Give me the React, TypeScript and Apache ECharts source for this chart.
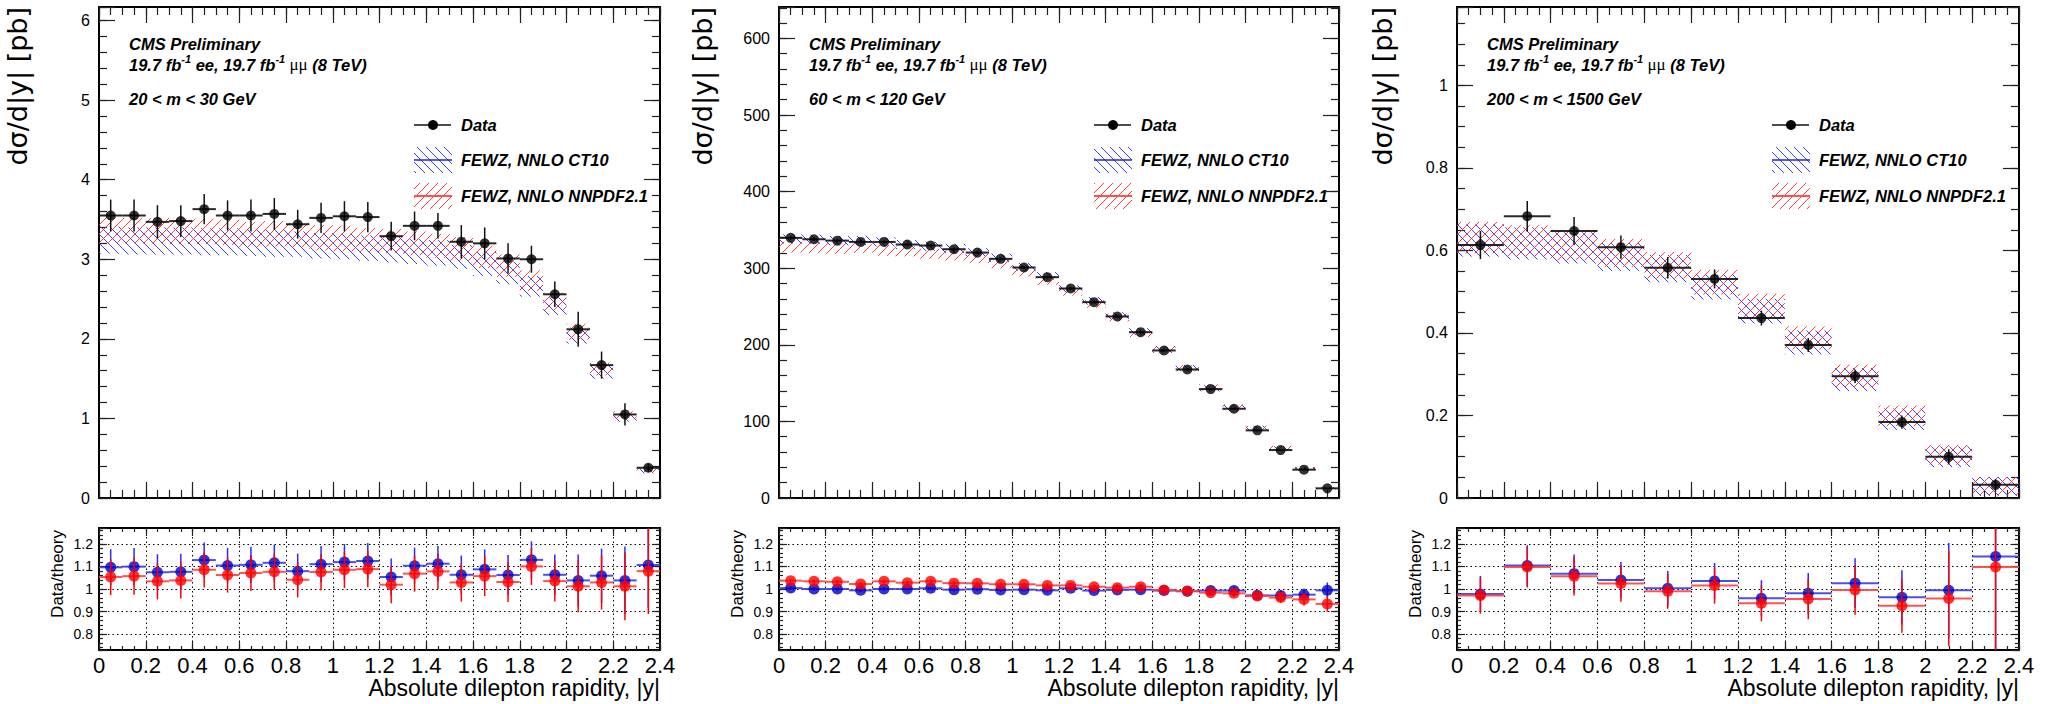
import React, { useEffect, useRef } from "react";
import * as echarts from "echarts";

// Bin edges in |y|
const edges24 = [0, 0.1, 0.2, 0.3, 0.4, 0.5, 0.6, 0.7, 0.8, 0.9, 1.0, 1.1, 1.2, 1.3, 1.4, 1.5, 1.6, 1.7, 1.8, 1.9, 2.0, 2.1, 2.2, 2.3, 2.4];
const edges12 = [0, 0.2, 0.4, 0.6, 0.8, 1.0, 1.2, 1.4, 1.6, 1.8, 2.0, 2.2, 2.4];

// 20 < m < 30 GeV
const data20 = [3.55, 3.55, 3.47, 3.48, 3.63, 3.55, 3.55, 3.57, 3.44, 3.52, 3.54, 3.53, 3.29, 3.42, 3.42, 3.22, 3.20, 3.01, 3.00, 2.56, 2.12, 1.67, 1.05, 0.38];
const data20Err = [0.20, 0.20, 0.21, 0.20, 0.19, 0.19, 0.20, 0.20, 0.18, 0.19, 0.19, 0.19, 0.18, 0.18, 0.16, 0.21, 0.20, 0.19, 0.17, 0.16, 0.22, 0.17, 0.14, 0.05];
const ct10_20 = [3.24, 3.23, 3.23, 3.23, 3.22, 3.22, 3.21, 3.20, 3.19, 3.17, 3.16, 3.14, 3.12, 3.10, 3.08, 3.03, 2.94, 2.83, 2.66, 2.41, 2.04, 1.58, 1.01, 0.34];
const ct10Unc_20 = [0.17, 0.17, 0.17, 0.17, 0.17, 0.17, 0.17, 0.17, 0.16, 0.16, 0.16, 0.16, 0.16, 0.16, 0.16, 0.15, 0.15, 0.14, 0.13, 0.11, 0.10, 0.08, 0.05, 0.03];
const nnpdf_20 = [3.37, 3.36, 3.36, 3.35, 3.35, 3.34, 3.31, 3.32, 3.30, 3.27, 3.26, 3.24, 3.23, 3.20, 3.17, 3.13, 3.03, 2.92, 2.73, 2.47, 2.09, 1.62, 1.04, 0.35];
const nnpdfUnc_20 = [0.16, 0.16, 0.16, 0.16, 0.16, 0.16, 0.16, 0.16, 0.16, 0.16, 0.16, 0.15, 0.15, 0.15, 0.15, 0.15, 0.14, 0.14, 0.13, 0.11, 0.10, 0.08, 0.05, 0.03];
const ratioCt10_20 = [1.096, 1.099, 1.074, 1.076, 1.128, 1.104, 1.107, 1.116, 1.079, 1.110, 1.119, 1.124, 1.053, 1.103, 1.112, 1.063, 1.087, 1.062, 1.129, 1.063, 1.038, 1.059, 1.038, 1.106];
const ratioNnpdf_20 = [1.053, 1.057, 1.034, 1.038, 1.085, 1.062, 1.071, 1.076, 1.041, 1.075, 1.085, 1.088, 1.019, 1.068, 1.078, 1.029, 1.057, 1.031, 1.100, 1.035, 1.012, 1.029, 1.012, 1.079];
const ratioErr_20 = [0.08, 0.082, 0.08, 0.08, 0.078, 0.078, 0.08, 0.08, 0.078, 0.08, 0.08, 0.08, 0.082, 0.08, 0.078, 0.085, 0.088, 0.088, 0.082, 0.09, 0.115, 0.12, 0.15, 0.19];

// 60 < m < 120 GeV
const data60 = [339.6, 337.8, 336.0, 334.3, 334.3, 330.9, 329.6, 324.8, 320.4, 312.2, 300.9, 288.3, 273.5, 255.7, 237.0, 216.5, 192.6, 167.8, 142.2, 116.5, 88.3, 62.6, 37.0, 12.6];
const data60Err = [2.2, 2.2, 2.2, 2.2, 2.2, 2.2, 2.1, 2.1, 2.1, 2.0, 2.0, 1.9, 1.9, 1.8, 1.7, 1.7, 1.6, 1.5, 1.4, 1.3, 1.2, 1.0, 0.8, 0.5];
const ct10_60 = [338.2, 337.8, 336.0, 336.3, 334.3, 330.9, 328.6, 325.8, 320.7, 313.5, 301.8, 290.0, 272.7, 257.5, 238.0, 217.2, 194.0, 169.5, 143.2, 117.3, 90.8, 64.5, 37.9, 12.7];
const ct10Unc_60 = [6, 6, 6, 6, 6, 6, 6, 6, 5.5, 5.5, 5, 5, 5, 5, 4.5, 4.5, 4.5, 4, 4, 4, 3.5, 3, 2.5, 1.5];
const nnpdf_60 = [327.5, 326.7, 325.6, 327.1, 323.3, 321.9, 318.8, 316.6, 312.6, 305.8, 294.7, 283.8, 269.2, 253.2, 235.6, 214.4, 193.4, 169.3, 144.5, 118.8, 91.1, 65.1, 38.8, 13.5];
const nnpdfUnc_60 = [7, 7, 7, 7, 7, 6.5, 6.5, 6.5, 6, 6, 5.5, 5.5, 5, 5, 5, 4.5, 4.5, 4, 4, 3.5, 3, 3, 2, 1.5];
const ratioCt10_60 = [1.004, 1.000, 1.000, 0.994, 1.000, 1.000, 1.003, 0.997, 0.999, 0.996, 0.997, 0.994, 1.003, 0.993, 0.996, 0.997, 0.993, 0.990, 0.993, 0.993, 0.972, 0.971, 0.975, 0.994];
const ratioNnpdf_60 = [1.037, 1.034, 1.032, 1.022, 1.034, 1.028, 1.034, 1.026, 1.025, 1.021, 1.021, 1.016, 1.016, 1.010, 1.006, 1.010, 0.996, 0.991, 0.984, 0.981, 0.969, 0.962, 0.954, 0.934];
const ratioErr_60 = [0.008, 0.008, 0.008, 0.008, 0.008, 0.008, 0.008, 0.008, 0.008, 0.008, 0.008, 0.009, 0.009, 0.009, 0.010, 0.010, 0.011, 0.012, 0.014, 0.016, 0.018, 0.022, 0.027, 0.035];

// 200 < m < 1500 GeV
const data200 = [0.613, 0.683, 0.647, 0.608, 0.558, 0.531, 0.436, 0.371, 0.295, 0.184, 0.100, 0.032];
const data200Err = [0.034, 0.037, 0.034, 0.028, 0.026, 0.023, 0.018, 0.017, 0.016, 0.016, 0.018, 0.014];
const ct10_200 = [0.624, 0.617, 0.606, 0.584, 0.556, 0.512, 0.453, 0.377, 0.287, 0.191, 0.100, 0.028];
const ct10Unc_200 = [0.039, 0.039, 0.038, 0.034, 0.033, 0.031, 0.030, 0.029, 0.028, 0.026, 0.025, 0.023];
const nnpdf_200 = [0.631, 0.623, 0.613, 0.594, 0.564, 0.523, 0.465, 0.388, 0.296, 0.199, 0.105, 0.029];
const nnpdfUnc_200 = [0.038, 0.038, 0.037, 0.034, 0.032, 0.030, 0.030, 0.028, 0.027, 0.025, 0.024, 0.022];
const ratioCt10_200 = [0.978, 1.104, 1.068, 1.040, 1.003, 1.035, 0.959, 0.981, 1.026, 0.963, 0.994, 1.144];
const ratioNnpdf_200 = [0.971, 1.097, 1.056, 1.024, 0.990, 1.015, 0.937, 0.956, 0.996, 0.926, 0.958, 1.097];
const ratioErr_200 = [0.08, 0.09, 0.085, 0.08, 0.077, 0.08, 0.08, 0.09, 0.11, 0.12, 0.21, 0.42];

const massLabels = ["20 < m < 30 GeV", "60 < m < 120 GeV", "200 < m < 1500 GeV"];
const yTopMax = [6.17, 641, 1.19];
const yTopMajor = [1, 100, 0.2];
const yTopMinor = [0.2, 20, 0.05];
const ratioRange = [0.73, 1.27];

const legendLabels = ["Data", "FEWZ, NNLO CT10", "FEWZ, NNLO NNPDF2.1"];

const FONT = "'Liberation Sans', Arial, Helvetica, sans-serif";
const BLUE = "#2a2aff";
const RED = "#ff2a2a";

// layout (px)
const panelLeft = [99, 779, 1457];
const panelWidth = [561, 560, 562];
const yTitleX = [17.5, 702, 1382];
const TOP_Y = 7;
const TOP_H = 491;
const RATIO_Y = 528;
const RATIO_H = 122;
const HATCH = 9;

type Panel = {
  edges: number[];
  data: number[];
  dataErr: number[];
  ct10: number[];
  ct10Unc: number[];
  nnpdf: number[];
  nnpdfUnc: number[];
  rCt10: number[];
  rNnpdf: number[];
  rErr: number[];
};

const panels: Panel[] = [
  { edges: edges24, data: data20, dataErr: data20Err, ct10: ct10_20, ct10Unc: ct10Unc_20, nnpdf: nnpdf_20, nnpdfUnc: nnpdfUnc_20, rCt10: ratioCt10_20, rNnpdf: ratioNnpdf_20, rErr: ratioErr_20 },
  { edges: edges24, data: data60, dataErr: data60Err, ct10: ct10_60, ct10Unc: ct10Unc_60, nnpdf: nnpdf_60, nnpdfUnc: nnpdfUnc_60, rCt10: ratioCt10_60, rNnpdf: ratioNnpdf_60, rErr: ratioErr_60 },
  { edges: edges12, data: data200, dataErr: data200Err, ct10: ct10_200, ct10Unc: ct10Unc_200, nnpdf: nnpdf_200, nnpdfUnc: nnpdfUnc_200, rCt10: ratioCt10_200, rNnpdf: ratioNnpdf_200, rErr: ratioErr_200 },
];

// Diagonal hatch lines clipped to a rectangle. "/" rises to the right, "\\" falls to the right.
function hatchLines(left: number, top: number, right: number, bottom: number, dir: "/" | "\\", stroke: string) {
  const out: any[] = [];
  if (right <= left || bottom <= top) return out;
  const style = { stroke, lineWidth: 1, opacity: 0.9 };
  if (dir === "/") {
    const kStart = Math.ceil((left + top) / HATCH) * HATCH;
    for (let k = kStart; k <= right + bottom; k += HATCH) {
      const xa = Math.max(left, k - bottom);
      const xb = Math.min(right, k - top);
      if (xb > xa) out.push({ type: "line", shape: { x1: xa, y1: k - xa, x2: xb, y2: k - xb }, style });
    }
  } else {
    const kStart = Math.ceil((left - bottom) / HATCH) * HATCH;
    for (let k = kStart; k <= right - top; k += HATCH) {
      const xa = Math.max(left, top + k);
      const xb = Math.min(right, bottom + k);
      if (xb > xa) out.push({ type: "line", shape: { x1: xa, y1: xa - k, x2: xb, y2: xb - k }, style });
    }
  }
  return out;
}

function bandRenderer(dir: "/" | "\\", stroke: string) {
  return (params: any, api: any) => {
    const cs = params.coordSys;
    const lo = api.value(0), hi = api.value(1), c = api.value(2), e = api.value(3);
    const p0 = api.coord([lo, c + e]);
    const p1 = api.coord([hi, c - e]);
    const left = Math.max(p0[0], cs.x);
    const right = Math.min(p1[0], cs.x + cs.width);
    const top = Math.max(p0[1], cs.y);
    const bottom = Math.min(p1[1], cs.y + cs.height);
    return { type: "group", children: hatchLines(left, top, right, bottom, dir, stroke) };
  };
}

function errorRenderer(hColor: string, vColor: string, hWidth: number, vWidth: number, hOpacity: number) {
  return (params: any, api: any) => {
    const cs = params.coordSys;
    const lo = api.value(0), hi = api.value(1), y = api.value(2), e = api.value(3);
    const mid = (lo + hi) / 2;
    const a = api.coord([lo, y]);
    const b = api.coord([hi, y]);
    const t = api.coord([mid, y + e]);
    const d = api.coord([mid, y - e]);
    const cy = (v: number) => Math.min(Math.max(v, cs.y), cs.y + cs.height);
    const children: any[] = [];
    if (a[1] >= cs.y && a[1] <= cs.y + cs.height) {
      children.push({ type: "line", shape: { x1: a[0], y1: a[1], x2: b[0], y2: b[1] }, style: { stroke: hColor, lineWidth: hWidth, opacity: hOpacity } });
    }
    children.push({ type: "line", shape: { x1: t[0], y1: cy(t[1]), x2: d[0], y2: cy(d[1]) }, style: { stroke: vColor, lineWidth: vWidth } });
    return { type: "group", children };
  };
}

const fmtNum = (v: number) => String(+v.toFixed(3));
const isMultiple = (v: number, step: number) => Math.abs(v / step - Math.round(v / step)) < 1e-6;

type AxisSpec = {
  min: number; max: number; major: number; minor: number;
  majorLen: number; minorLen: number; labels: boolean; fontSize: number; margin: number; grid: boolean;
};

function axisSet(dim: "x" | "y", gridIndex: number, s: AxisSpec) {
  const positions = dim === "x" ? ["bottom", "top"] : ["left", "right"];
  const out: any[] = [];
  positions.forEach((pos, pi) => {
    ["major", "minor"].forEach((kind) => {
      const step = kind === "major" ? s.major : s.minor;
      const primary = pi === 0 && kind === "major";
      out.push({
        type: "value",
        gridIndex,
        position: pos,
        min: s.min,
        max: s.max,
        minInterval: step,
        maxInterval: step,
        splitNumber: Math.round((s.max - s.min) / step),
        axisLine: { show: kind === "major", onZero: false, lineStyle: { color: "#000", width: 2 } },
        axisTick: { show: true, inside: true, length: kind === "major" ? s.majorLen : s.minorLen, lineStyle: { color: "#222", width: 1.2 } },
        minorTick: { show: false },
        minorSplitLine: { show: false },
        axisLabel: {
          show: primary && s.labels,
          color: "#000",
          fontFamily: FONT,
          fontSize: s.fontSize,
          margin: s.margin,
          hideOverlap: false,
          showMinLabel: true,
          showMaxLabel: true,
          formatter: (v: number) => (isMultiple(v, s.major) ? fmtNum(v) : ""),
        },
        splitLine: { show: primary && s.grid, lineStyle: { color: "#000", width: 1, type: [1.5, 3] } },
        splitArea: { show: false },
      });
    });
  });
  return out;
}

function buildOption() {
  const grids: any[] = [];
  const xAxes: any[] = [];
  const yAxes: any[] = [];
  const series: any[] = [];
  const graphics: any[] = [];

  // top grids 0..2, ratio grids 3..5
  for (let p = 0; p < 3; p++) {
    grids.push({ left: panelLeft[p], top: TOP_Y, width: panelWidth[p], height: TOP_H, containLabel: false, outerBoundsMode: "none" });
  }
  for (let p = 0; p < 3; p++) {
    grids.push({ left: panelLeft[p], top: RATIO_Y, width: panelWidth[p], height: RATIO_H, containLabel: false, outerBoundsMode: "none" });
  }

  for (let g = 0; g < 6; g++) {
    const p = g % 3;
    const isRatio = g >= 3;
    xAxes.push(
      ...axisSet("x", g, {
        min: 0, max: 2.4, major: 0.2, minor: 0.05,
        majorLen: isRatio ? 8 : 16, minorLen: isRatio ? 4 : 8,
        labels: isRatio, fontSize: 22, margin: 4, grid: isRatio,
      })
    );
    yAxes.push(
      ...axisSet("y", g, isRatio
        ? { min: ratioRange[0], max: ratioRange[1], major: 0.1, minor: 0.02, majorLen: 8, minorLen: 4, labels: true, fontSize: 14, margin: 6, grid: true }
        : { min: 0, max: yTopMax[p], major: yTopMajor[p], minor: yTopMinor[p], majorLen: 16, minorLen: 8, labels: true, fontSize: 16, margin: 9, grid: false })
    );
  }

  panels.forEach((pn, p) => {
    const top = p, rat = 3 + p;
    const n = pn.data.length;
    const idx = Array.from({ length: n }, (_, i) => i);
    const lo = (i: number) => pn.edges[i];
    const hi = (i: number) => pn.edges[i + 1];
    const ctr = (i: number) => (pn.edges[i] + pn.edges[i + 1]) / 2;
    const onTop = { xAxisIndex: top * 4, yAxisIndex: top * 4 };
    const onRat = { xAxisIndex: rat * 4, yAxisIndex: rat * 4 };

    series.push({
      type: "custom", ...onTop, z: 2, silent: true,
      encode: { x: [0, 1], y: [2] },
      data: idx.map((i) => [lo(i), hi(i), pn.ct10[i], pn.ct10Unc[i]]),
      renderItem: bandRenderer("\\", BLUE),
    });
    series.push({
      type: "custom", ...onTop, z: 2, silent: true,
      encode: { x: [0, 1], y: [2] },
      data: idx.map((i) => [lo(i), hi(i), pn.nnpdf[i], pn.nnpdfUnc[i]]),
      renderItem: bandRenderer("/", RED),
    });
    series.push({
      type: "custom", ...onTop, z: 3, silent: true,
      encode: { x: [0, 1], y: [2] },
      data: idx.map((i) => [lo(i), hi(i), pn.data[i], pn.dataErr[i]]),
      renderItem: errorRenderer("#111", "#111", 2, 1.5, 0.9),
    });
    series.push({
      type: "scatter", ...onTop, z: 4, silent: true,
      symbol: "circle", symbolSize: 10,
      itemStyle: { color: "#000" },
      data: idx.map((i) => [ctr(i), pn.data[i]]),
    });

    series.push({
      type: "custom", ...onRat, z: 3, silent: true,
      encode: { x: [0, 1], y: [2] },
      data: idx.map((i) => [lo(i), hi(i), pn.rCt10[i], pn.rErr[i]]),
      renderItem: errorRenderer("#3a3ae8", "#2a2aff", 2, 1.5, 0.9),
    });
    series.push({
      type: "scatter", ...onRat, z: 4, silent: true,
      symbol: "circle", symbolSize: 11,
      itemStyle: { color: "#0000c8" },
      data: idx.map((i) => [ctr(i), pn.rCt10[i]]),
    });
    series.push({
      type: "custom", ...onRat, z: 5, silent: true,
      encode: { x: [0, 1], y: [2] },
      data: idx.map((i) => [lo(i), hi(i), pn.rNnpdf[i], pn.rErr[i]]),
      renderItem: errorRenderer("#ff4040", "#ff0000", 2, 1.5, 0.9),
    });
    series.push({
      type: "scatter", ...onRat, z: 6, silent: true,
      symbol: "circle", symbolSize: 11,
      itemStyle: { color: "#ff0000" },
      data: idx.map((i) => [ctr(i), pn.rNnpdf[i]]),
    });

    // annotations
    const L = panelLeft[p];
    const R = panelLeft[p] + panelWidth[p];
    const bi = { fontFamily: FONT, fontWeight: "bold", fontStyle: "italic", fontSize: 16.5, fill: "#000" };
    graphics.push({ type: "text", x: L + 30, y: 44, style: { ...bi, text: "CMS Preliminary", verticalAlign: "middle" } });
    graphics.push({
      type: "text", x: L + 30, y: 63,
      style: {
        text: "{a|19.7 fb}{s|-1}{a| ee, 19.7 fb}{s|-1}{m| \u03bc\u03bc}{a| (8 TeV)}",
        verticalAlign: "middle",
        rich: {
          a: { ...bi, lineHeight: 20, verticalAlign: "bottom" },
          s: { ...bi, fontSize: 11, lineHeight: 20, verticalAlign: "top" },
          m: { fontFamily: "'Liberation Serif', 'DejaVu Serif', serif", fontSize: 17, fill: "#000", lineHeight: 20, verticalAlign: "bottom" },
        },
      },
    });
    graphics.push({ type: "text", x: L + 30, y: 98.5, style: { ...bi, text: massLabels[p], verticalAlign: "middle" } });

    // legend
    const lx0 = L + 315, lx1 = L + 353;
    graphics.push({ type: "line", shape: { x1: lx0, y1: 125, x2: lx1 - 1, y2: 125 }, style: { stroke: "#111", lineWidth: 1.5 } });
    graphics.push({ type: "circle", shape: { cx: (lx0 + lx1) / 2, cy: 125, r: 5 }, style: { fill: "#000" } });
    graphics.push({ type: "group", children: hatchLines(lx0, 147, lx1, 173, "\\", BLUE) });
    graphics.push({ type: "line", shape: { x1: lx0, y1: 160, x2: lx1, y2: 160 }, style: { stroke: "#2020e0", lineWidth: 1.5 } });
    graphics.push({ type: "group", children: hatchLines(lx0, 183, lx1, 209, "/", RED) });
    graphics.push({ type: "line", shape: { x1: lx0, y1: 196, x2: lx1, y2: 196 }, style: { stroke: "#ff5050", lineWidth: 2 } });
    [125, 160, 196].forEach((yy, k) => {
      graphics.push({ type: "text", x: L + 362, y: yy, style: { ...bi, text: legendLabels[k], verticalAlign: "middle" } });
    });

    // axis titles
    graphics.push({
      type: "text", x: yTitleX[p], y: TOP_Y, rotation: Math.PI / 2,
      style: { text: "d\u03c3/d|y| [pb]", fontFamily: "'DejaVu Sans', sans-serif", fontSize: 27, fill: "#000", align: "right", verticalAlign: "middle" },
    });
    graphics.push({
      type: "text", x: L - 42, y: RATIO_Y + 2, rotation: Math.PI / 2,
      style: { text: "Data/theory", fontFamily: FONT, fontSize: 17, fill: "#000", align: "right", verticalAlign: "middle" },
    });
    graphics.push({
      type: "text", x: R, y: 688,
      style: { text: "Absolute dilepton rapidity, |y|", fontFamily: FONT, fontSize: 23, fill: "#000", align: "right", verticalAlign: "middle" },
    });
  });

  return {
    animation: false,
    backgroundColor: "#fff",
    grid: grids,
    xAxis: xAxes,
    yAxis: yAxes,
    series,
    graphic: { elements: graphics },
  };
}

export default function App() {
  const ref = useRef<HTMLDivElement>(null);
  useEffect(() => {
    if (!ref.current) return;
    const chart = echarts.init(ref.current, null, { renderer: "svg" });
    chart.setOption(buildOption() as any);
    return () => chart.dispose();
  }, []);
  return (
    <div
      ref={ref}
      style={{ position: "fixed", left: 0, top: 0, width: 2046, height: 704, background: "#fff" }}
    />
  );
}
